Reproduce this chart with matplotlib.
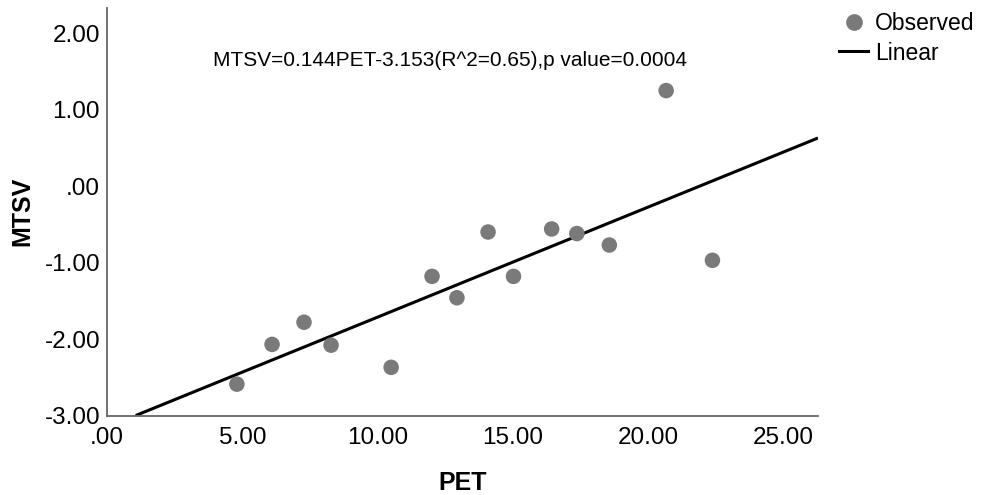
import matplotlib
matplotlib.use('Agg')
import matplotlib.pyplot as plt
import numpy as np
from matplotlib.lines import Line2D

plt.rcParams['font.family'] = ['Liberation Sans', 'DejaVu Sans']

# 观测值 (PET, MTSV)
pet = [4.80, 6.10, 7.28, 8.28, 10.50, 12.01, 12.93, 14.08, 15.02, 16.43, 17.36, 18.56, 20.66, 22.37]
mtsv = [-2.59, -2.07, -1.78, -2.08, -2.37, -1.18, -1.46, -0.60, -1.18, -0.56, -0.62, -0.77, 1.25, -0.97]
slope = 0.144
intercept = -3.153
eq_text = 'MTSV=0.144PET-3.153(R^2=0.65),p value=0.0004'
x_ticks = [0, 5, 10, 15, 20, 25]
y_ticks = [-3, -2, -1, 0, 1, 2]

def fmt(v):
    s = '%.2f' % v
    if s.startswith('0.'):
        s = s[1:]
    if s == '0.00':
        s = '.00'
    return s

fig = plt.figure(figsize=(9.84, 4.95), dpi=100)
ax = fig.add_axes([0.1087, 0.1606, 0.7226, 0.8232])

xmin, xmax = 0, 26.27
ymin, ymax = -3, 2.33
ax.set_xlim(xmin, xmax)
ax.set_ylim(ymin, ymax)

xl = np.array([(ymin - intercept) / slope, xmax])
ax.plot(xl, slope * xl + intercept, color='black', lw=2.2, zorder=2, solid_capstyle='butt')
ax.scatter(pet, mtsv, s=125, color='#7a7a7a', edgecolors='none', zorder=3)

ax.set_xticks(x_ticks)
ax.set_xticklabels([fmt(v) for v in x_ticks], fontsize=17.5)
ax.set_yticks(y_ticks)
ax.set_yticklabels([fmt(v) for v in y_ticks], fontsize=17.5)
ax.tick_params(axis='y', length=0, pad=5)
ax.tick_params(axis='x', length=0, pad=8)

for s in ['top', 'right']:
    ax.spines[s].set_visible(False)
for s in ['left', 'bottom']:
    ax.spines[s].set_color('#666666')
    ax.spines[s].set_linewidth(1.3)

ax.set_xlabel('PET', fontsize=18, fontweight='bold', labelpad=16)
ax.set_ylabel('MTSV', fontsize=18, fontweight='bold', labelpad=7)

ax.text(0.482, 0.872, eq_text, transform=ax.transAxes, ha='center', va='center', fontsize=15)

handles = [Line2D([], [], marker='o', ls='none', color='#7a7a7a', markersize=11),
           Line2D([], [], color='black', lw=2.2)]
fig.legend(handles, ['Observed', 'Linear'], loc='upper left', bbox_to_anchor=(0.843, 0.995),
           frameon=False, fontsize=16.5, handlelength=1.3, handletextpad=0.3, labelspacing=0.3,
           borderaxespad=0)

fig.savefig('out.png', dpi=100)
